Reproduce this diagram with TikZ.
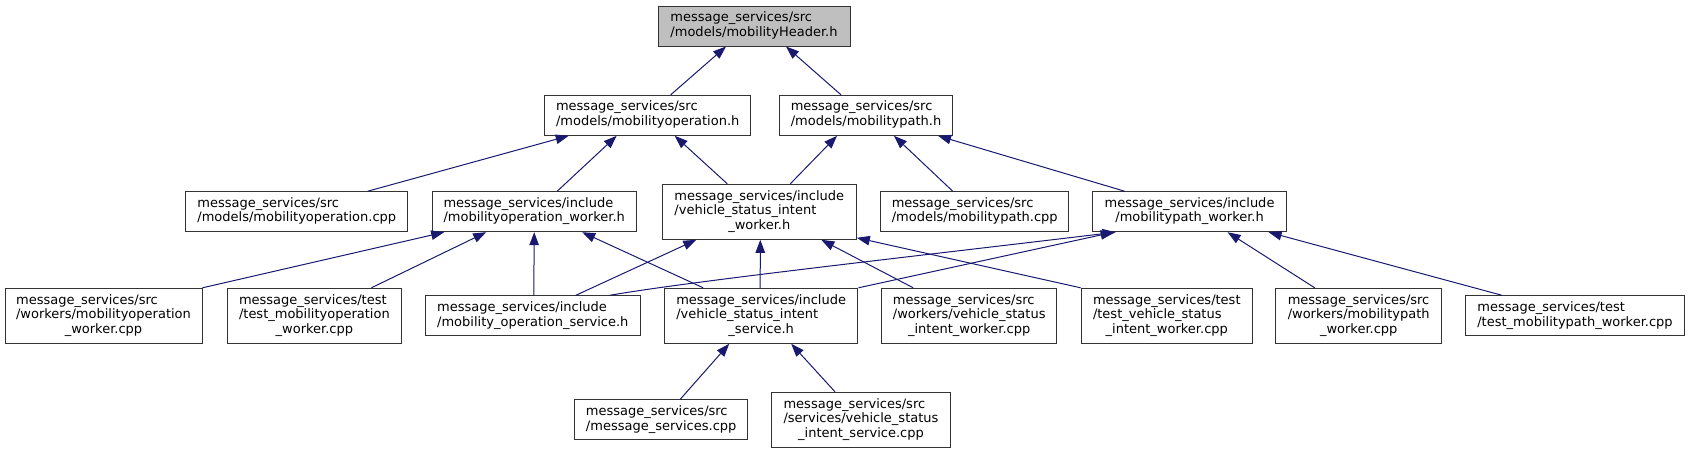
\documentclass[tikz,border=0pt]{standalone}
\usepackage{fontspec}
\setmainfont{DejaVu Sans}
\usepackage{tikz}
\usetikzlibrary{arrows.meta}
\definecolor{edgeblue}{HTML}{191970}
\definecolor{rootgrey}{HTML}{BFBFBF}
\newcommand{\flines}[2]{\begin{tabular}{@{}l@{}}#1\\\multicolumn{1}{@{}c@{}}{#2}\end{tabular}}

\begin{document}
\begin{tikzpicture}[x=1pt,y=-1pt,font=\fontsize{13}{14.6}\selectfont,
   file/.style={draw=black!80,line width=1pt,inner sep=0pt,minimum height=40pt,fill=white},
   tall/.style={file,minimum height=55pt},
   root/.style={file,fill=rootgrey},
   dep/.style={draw=edgeblue,line width=1pt,-{Triangle[length=13pt,width=9.5pt]}}]
  \useasboundingbox (0,0) rectangle (1689,453);
  % top level
  \node[root,minimum width=192pt] (hdr) at (754,26) {\flines{message\_services/src}{/models/mobilityHeader.h}};
  \node[file,minimum width=206pt] (mop_h) at (647.7,115.3) {\flines{message\_services/src}{/models/mobilityoperation.h}};
  \node[file,minimum width=173pt] (mpath_h) at (866,115.3) {\flines{message\_services/src}{/models/mobilitypath.h}};
  % second row
  \node[file,minimum width=222pt] (mop_cpp) at (296.8,211.7) {\flines{message\_services/src}{/models/mobilityoperation.cpp}};
  \node[file,minimum width=204pt] (mopw_h) at (534.2,211.7) {\flines{message\_services/include}{/mobilityoperation\_worker.h}};
  \node[tall,minimum width=194pt] (vsiw_h) at (759.3,211.8) {\flines{message\_services/include\\/vehicle\_status\_intent}{\_worker.h}};
  \node[file,minimum width=188pt] (mpath_cpp) at (974.7,211.7) {\flines{message\_services/src}{/models/mobilitypath.cpp}};
  \node[file,minimum width=194pt] (mpw_h) at (1189.6,211.7) {\flines{message\_services/include}{/mobilitypath\_worker.h}};
  % third row
  \node[tall,minimum width=197pt] (mopw_cpp) at (103.5,315.8) {\flines{message\_services/src\\/workers/mobilityoperation}{\_worker.cpp}};
  \node[tall,minimum width=174.5pt] (tmopw_cpp) at (314.4,315.8) {\flines{message\_services/test\\/test\_mobilityoperation}{\_worker.cpp}};
  \node[file,minimum width=214.6pt] (mops_h) at (532.8,315.8) {\flines{message\_services/include}{/mobility\_operation\_service.h}};
  \node[tall,minimum width=193.4pt] (vsis_h) at (761.2,315.8) {\flines{message\_services/include\\/vehicle\_status\_intent}{\_service.h}};
  \node[tall,minimum width=175pt] (vsiw_cpp) at (969.2,315.8) {\flines{message\_services/src\\/workers/vehicle\_status}{\_intent\_worker.cpp}};
  \node[tall,minimum width=171.3pt] (tvsiw_cpp) at (1166.8,315.8) {\flines{message\_services/test\\/test\_vehicle\_status}{\_intent\_worker.cpp}};
  \node[tall,minimum width=165.8pt] (mpw_cpp) at (1358.7,315.8) {\flines{message\_services/src\\/workers/mobilitypath}{\_worker.cpp}};
  \node[file,minimum width=219pt] (tmpw_cpp) at (1575,315.8) {\flines{message\_services/test}{/test\_mobilitypath\_worker.cpp}};
  % bottom row
  \node[file,minimum width=173.5pt] (msrv_cpp) at (661.2,419.8) {\flines{message\_services/src}{/message\_services.cpp}};
  \node[tall,minimum width=179.3pt] (vsis_cpp) at (861,419.8) {\flines{message\_services/src\\/services/vehicle\_status}{\_intent\_service.cpp}};
  % include edges
  \draw[dep] ([xshift=23]mop_h.north) -- ([xshift=-28]hdr.south);
  \draw[dep] ([xshift=-25]mpath_h.north) -- ([xshift=32]hdr.south);
  \draw[dep] ([xshift=71]mop_cpp.north) -- ([xshift=-79]mop_h.south);
  \draw[dep] ([xshift=23]mopw_h.north) -- ([xshift=-31]mop_h.south);
  \draw[dep] ([xshift=-32]vsiw_h.north) -- ([xshift=27]mop_h.south);
  \draw[dep] ([xshift=31]vsiw_h.north) -- ([xshift=-29]mpath_h.south);
  \draw[dep] ([xshift=-22]mpath_cpp.north) -- ([xshift=28]mpath_h.south);
  \draw[dep] ([xshift=-65]mpw_h.north) -- ([xshift=72]mpath_h.south);
  \draw[dep] (mopw_cpp.north east) -- ([xshift=-90]mopw_h.south);
  \draw[dep] ([xshift=57]tmopw_cpp.north) -- ([xshift=-48]mopw_h.south);
  \draw[dep] ([xshift=1]mops_h.north) -- (mopw_h.south);
  \draw[dep] ([xshift=-58]vsis_h.north) -- ([xshift=48]mopw_h.south);
  \draw[dep] ([xshift=43]mops_h.north) -- ([xshift=-63]vsiw_h.south);
  \draw[dep] ([xshift=-1]vsis_h.north) -- ([xshift=1]vsiw_h.south);
  \draw[dep] ([xshift=-56]vsiw_cpp.north) -- ([xshift=62]vsiw_h.south);
  \draw[dep] (tvsiw_cpp.north west) -- ([yshift=2]vsiw_h.south east);
  \draw[dep] ([xshift=77]mops_h.north) .. controls +(80,-14) and +(-200,24) .. ([xshift=-74]mpw_h.south);
  \draw[dep] (vsis_h.north east) -- ([xshift=-76]mpw_h.south);
  \draw[dep] ([xshift=-44]mpw_cpp.north) -- ([xshift=38]mpw_h.south);
  \draw[dep] ([xshift=-73]tmpw_cpp.north) -- ([xshift=79]mpw_h.south);
  \draw[dep] ([xshift=19]msrv_cpp.north) -- ([xshift=-32]vsis_h.south);
  \draw[dep] ([xshift=-26]vsis_cpp.north) -- ([xshift=30]vsis_h.south);
\end{tikzpicture}
\end{document}
